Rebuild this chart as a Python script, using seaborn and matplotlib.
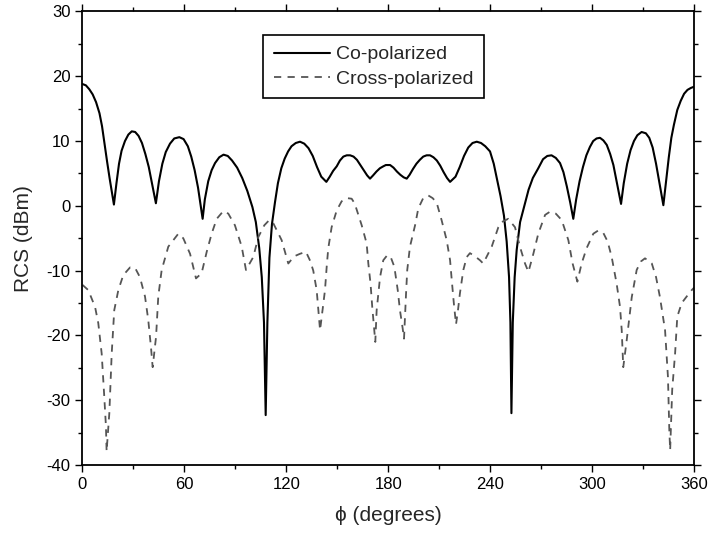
import matplotlib
matplotlib.use("Agg")
import matplotlib.pyplot as plt
import seaborn as sns
import pandas as pd
from matplotlib.ticker import MultipleLocator

# co-polarized RCS (one line per lobe)
co_phi = ([0, 2, 4, 6, 8, 10, 11.5, 13, 14.5, 16, 17.5, 18.5]
          + [20, 21.5, 23, 25, 27, 29, 31, 33, 35, 37, 39, 41, 43.2]
          + [45, 47, 49, 51.5, 54, 57, 59.5, 62, 64, 66, 68, 70.7]
          + [72, 74, 76, 78, 80.5, 83, 85.5, 88, 91, 94, 97, 100, 102, 104, 105.5, 106.8, 107.8]
          + [108.8, 110, 111.5, 113.3, 115, 117, 119, 121, 123, 125.5, 128, 130.5, 133, 135.5, 138, 140.5, 143.5]
          + [145.5, 147.5, 149.6, 151.5, 153.5, 155.5, 157.5, 159.5, 161.5, 163.5, 165.5, 167.5,
             169.2, 171, 173, 175, 177, 178.5, 181, 183, 185, 187, 189, 190.8]
          + [192.5, 194.5, 196.5, 198.5, 200.5, 202.5, 204.5, 206.5, 208.5, 210.5, 212.5, 214.5, 216.3]
          + [219.5, 222, 224.5, 227, 229.5, 232, 234.5, 237, 239.8, 242, 244, 246, 248, 249.6, 251, 251.8, 252.4]
          + [253.2, 254.3, 255.5, 257.5, 260.4, 262.5, 265, 268.2, 271, 273.5, 276, 278.5, 281, 283, 285, 287, 288.8]
          + [290.5, 292.5, 294.5, 296.5, 298.6, 300.5, 302.5, 304.5, 306.5, 308.5, 310.5, 312.4, 314.5, 316.9]
          + [318.5, 320.5, 322.5, 324.5, 326.5, 329, 331.5, 333.5, 335.5, 337.5, 339.5, 341.8]
          + [343.5, 345, 346.5, 348, 350, 352, 354, 356, 358, 360])
co_rcs = ([18.8, 18.6, 18.0, 17.2, 16.0, 14.3, 12.3, 9.5, 6.8, 4.2, 1.8, 0.2]
          + [3.5, 6.5, 8.5, 10.0, 11.0, 11.5, 11.4, 10.8, 9.7, 8.0, 6.0, 3.3, 0.4]
          + [3.8, 6.5, 8.3, 9.6, 10.4, 10.6, 10.3, 9.2, 7.6, 5.5, 2.8, -2.0]
          + [1.0, 3.8, 5.5, 6.6, 7.5, 7.9, 7.7, 7.0, 5.9, 4.3, 2.3, -0.2, -2.5, -6.5, -11, -18, -32.3]
          + [-18, -8, -2.8, 0.6, 3.5, 5.8, 7.3, 8.4, 9.2, 9.7, 9.9, 9.6, 8.9, 7.7, 6.0, 4.5, 3.7]
          + [4.5, 5.4, 6.1, 7.0, 7.6, 7.8, 7.8, 7.6, 7.1, 6.3, 5.5, 4.7,
             4.2, 4.7, 5.3, 5.8, 6.1, 6.3, 6.3, 5.9, 5.3, 4.8, 4.4, 4.2]
          + [4.8, 5.7, 6.5, 7.1, 7.6, 7.8, 7.8, 7.5, 7.0, 6.2, 5.2, 4.3, 3.7]
          + [4.5, 6.0, 7.7, 9.0, 9.7, 9.9, 9.7, 9.2, 8.4, 6.5, 4.0, 1.5, -1.5, -5.5, -11, -18, -32.0]
          + [-18, -11, -6.8, -2.5, 0.4, 2.5, 4.3, 5.8, 7.2, 7.7, 7.8, 7.4, 6.6, 5.2, 3.0, 0.5, -2.0]
          + [1.0, 3.8, 6.0, 7.8, 9.1, 10.0, 10.4, 10.5, 10.1, 9.4, 8.0, 6.3, 3.5, 0.3]
          + [3.5, 6.5, 8.6, 10.0, 10.9, 11.4, 11.2, 10.5, 9.0, 6.5, 3.5, 0.1]
          + [4.0, 7.5, 10.5, 12.5, 14.8, 16.2, 17.3, 17.9, 18.2, 18.4])

# cross-polarized RCS
cross_phi = [0, 3.4, 7.4, 9.3, 11.3, 12.7, 13.8, 14.2, 15.8, 17.2, 18.7, 21.1, 24, 28, 31, 33.8, 36.8,
             38.7, 40.3, 41.3, 43.3, 44.6, 46.6, 50.5, 56.4, 59.3, 63.3, 66.8, 70.1, 73.1, 76, 79,
             82.9, 85.8, 89.7, 93.7, 96.2, 100.5, 103.5, 107, 109.9, 112.3, 117.2, 121.1, 124.5, 128,
             131.5, 134, 135.8, 137.8, 138.8, 139.8, 141.5, 142.7, 143.7, 144.6, 146.6, 149.6, 152.5,
             155.5, 158.4, 160.2, 164.3, 167.2, 168.2, 169.5, 170.5, 171.5, 172.3, 173.1, 175.1, 177,
             179.4, 181.5, 183.5, 185.5, 186.8, 188.4, 189.2, 190.4, 191.1, 192.7, 195.7, 197.6,
             200.5, 203.5, 206, 208.4, 211.3, 214.3, 216.3, 217.3, 218.5, 219.8, 221, 222.1, 224.1,
             226.1, 228, 231, 233.9, 235.8, 240.8, 244.7, 246.7, 250.5, 254.5, 257.4, 260.4, 262.4,
             265.3, 268.2, 272.2, 275.1, 278.5, 282, 285.9, 288.4, 291.2, 293.7, 296.7, 300.6, 303.5,
             306.5, 309, 311.4, 314.3, 316.3, 317.3, 318.2, 320.2, 323.2, 326.1, 328.5, 331, 335,
             337.5, 339.8, 342.8, 344.5, 345.3, 345.8, 347.0, 348.7, 350, 352.6, 355.5, 358.5, 360]
cross_rcs = [-12.2, -13.0, -15.6, -18.1, -22.8, -28.9, -34.0, -37.9, -32.0, -22.8, -16.1, -13.0, -10.7,
             -9.5, -9.6, -11.0, -14.0, -17.6, -21.8, -24.9, -20.2, -14.0, -9.9, -6.3, -4.3, -5.0,
             -7.4, -11.2, -10.4, -7.1, -4.3, -2.0, -0.8, -1.2, -3.0, -6.3, -9.9, -7.9, -4.8, -3.0,
             -2.2, -2.7, -5.3, -8.9, -7.8, -7.4, -7.1, -8.5, -10.0, -13.0, -16.1, -19.2, -15.5,
             -13.0, -9.4, -6.6, -3.3, -0.7, 0.7, 1.2, 1.1, 0.35, -3.0, -5.8, -8.9, -12.0, -15.6,
             -18.7, -21.0, -16.1, -11.0, -8.4, -7.6, -8.0, -9.4, -13.0, -16.1, -18.9, -20.5, -13.5,
             -9.9, -6.3, -3.0, -0.4, 1.2, 1.6, 1.2, 0.5, -2.2, -5.3, -8.4, -11.5, -15.0, -18.3,
             -16.0, -13.5, -9.9, -7.9, -7.3, -7.8, -8.4, -8.9, -6.3, -3.3, -2.5, -2.0, -3.3, -6.3,
             -8.9, -10.2, -7.4, -4.3, -1.4, -0.9, -1.2, -2.2, -5.3, -8.9, -11.7, -8.9, -6.5, -4.3,
             -3.8, -4.2, -5.5, -7.9, -12.0, -15.6, -19.2, -24.9, -20.8, -14.1, -9.9, -8.6, -8.1,
             -8.9, -11.0, -14.1, -19.2, -26.4, -34.6, -37.7, -28.4, -22.8, -17.1, -15.0, -14.0,
             -13.0, -12.6]

sns.set_style("ticks")
plt.rcParams['font.family'] = ['Liberation Sans', 'DejaVu Sans']
plt.rcParams['axes.unicode_minus'] = False

fig = plt.figure(figsize=(7.11, 5.39), dpi=100)
ax = fig.add_axes([0.116, 0.1373, 0.8605, 0.8414])

co_df = pd.DataFrame({"phi": co_phi, "rcs": co_rcs})
cross_df = pd.DataFrame({"phi": cross_phi, "rcs": cross_rcs})

sns.lineplot(data=co_df, x="phi", y="rcs", ax=ax, color="black", linewidth=1.5,
             sort=False, estimator=None, label="Co-polarized")
sns.lineplot(data=cross_df, x="phi", y="rcs", ax=ax, color="#555555", linewidth=1.3,
             sort=False, estimator=None, label="Cross-polarized")
ax.lines[1].set_dashes((4, 3.5))

ax.set_xlim(0, 360)
ax.set_ylim(-40, 30)
ax.xaxis.set_major_locator(MultipleLocator(60))
ax.xaxis.set_minor_locator(MultipleLocator(30))
ax.yaxis.set_major_locator(MultipleLocator(10))
ax.yaxis.set_minor_locator(MultipleLocator(5))
ax.tick_params(which="both", direction="out", top=True, right=True, labelsize=12,
               colors="black", width=1)
ax.tick_params(which="major", length=5)
ax.tick_params(which="minor", length=3)
for s in ax.spines.values():
    s.set_linewidth(1.3)
    s.set_color("black")

ax.set_xlabel("\u03d5 (degrees)", fontsize=15, labelpad=10)
ax.set_ylabel("RCS (dBm)", fontsize=15, labelpad=10)

leg = ax.legend(loc="upper left", bbox_to_anchor=(0.295, 0.948), borderaxespad=0,
                fontsize=14, frameon=True, fancybox=False, framealpha=1,
                handlelength=2.9, borderpad=0.55, labelspacing=0.35, handletextpad=0.3)
leg.get_frame().set_edgecolor("black")
leg.get_frame().set_linewidth(1.2)
leg.get_lines()[1].set_dashes((4, 3.5))

fig.savefig("out.png", dpi=100)
